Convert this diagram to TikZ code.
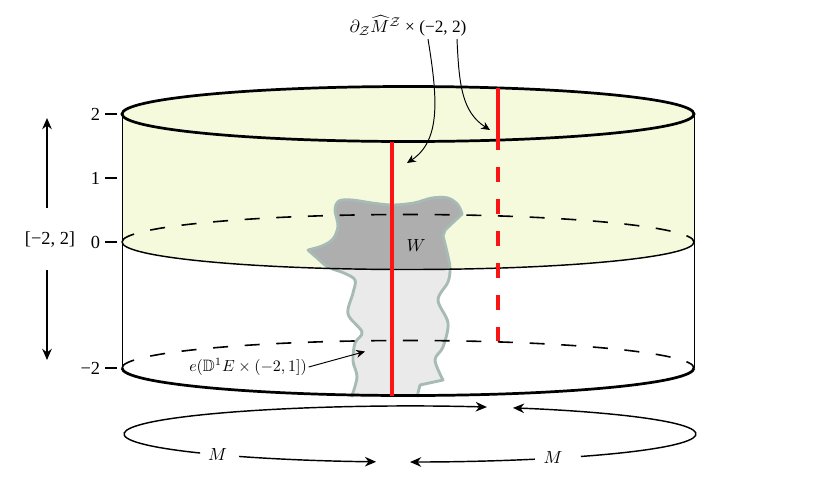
\documentclass[tikz,border=0pt]{standalone}
\usepackage[no-math]{fontspec}
\setmainfont{Liberation Serif}
\usepackage{amssymb}
\usetikzlibrary{arrows.meta}
\definecolor{bandyellow}{RGB}{246,250,220}
\definecolor{wdark}{RGB}{174,174,174}
\definecolor{wlight}{RGB}{234,234,234}
\definecolor{wborder}{RGB}{166,186,182}
\definecolor{redline}{RGB}{250,20,20}
\newcommand{\blobline}{(351.5,397) -- plot[smooth,tension=0.55] coordinates {(351.5,397) (357,377) (353,361) (355,343) (362,332) (348,314) (353,293) (355,280) (344,273) (328,267) (316,257) (308,250)}
 -- plot[smooth,tension=0.55] coordinates {(308,250) (322,246) (333,239) (338,226) (335,210) (339,201) (352,200) (372,203) (392,205) (414,203) (432,198) (448,198) (458,205) (462,214)}
 -- (445,230) -- (443,236)
 -- plot[smooth,tension=0.55] coordinates {(443,236) (447,252) (450,268) (448,282) (438,300) (448,323) (443,347) (435,360) (443,380)}
 -- (420,385) -- (417,397)}
\tikzset{
  thinline/.style={line width=0.6pt},
  backdash/.style={line width=1pt, dash pattern=on 9.4pt off 10.4pt},
  redsolid/.style={redline, line width=1.9pt},
  reddash/.style={redline, line width=1.9pt, dash pattern=on 9.4pt off 10.6pt},
  tick/.style={line width=0.9pt},
  ticklabel/.style={anchor=east, inner sep=0pt, font=\fontsize{11.5}{13}\selectfont},
  arr/.style={line width=0.9pt, -{Stealth[length=7pt,width=6pt]}},
  smallarr/.style={line width=0.6pt, -{Stealth[length=5.5pt,width=5pt]}},
}
\begin{document}
\begin{tikzpicture}[x=0.625pt,y=-0.625pt]
\useasboundingbox (0,0) rectangle (818,490);
% yellow band
\fill[bandyellow] (122,114) -- (122,242) arc[start angle=180,end angle=0,x radius=286,y radius=27.5]
  -- (694,114) arc[start angle=0,end angle=-180,x radius=286,y radius=27.5] -- cycle;
% blob
\fill[wlight] \blobline -- cycle;
\begin{scope}
\clip (122,114) -- (122,242) arc[start angle=180,end angle=0,x radius=286,y radius=27.5] -- (694,0) -- (122,0) -- cycle;
\fill[wdark] \blobline -- cycle;
\end{scope}
\draw[wborder, line width=1.8pt, line join=round] \blobline;
% back dashed arcs
\draw[backdash] (122,242) arc[start angle=180,end angle=360,x radius=286,y radius=27.5];
\draw[backdash] (122,368) arc[start angle=180,end angle=360,x radius=286,y radius=27.5];
% front arcs and sides
\draw[line width=0.9pt] (122,242) arc[start angle=180,end angle=0,x radius=286,y radius=27.5];
\draw[line width=1.7pt] (122,368) arc[start angle=180,end angle=0,x radius=286,y radius=27.5];
\draw[thinline] (122,114) -- (122,368);
\draw[thinline] (694,114) -- (694,368);
\draw[line width=1.7pt] (408,114) ellipse[x radius=286,y radius=27.5];
% red lines
\coordinate (r1top) at (392,141.5);
\coordinate (r1bot) at (392,395.5);
\coordinate (r2top) at (498,87.5);
\coordinate (r2mid) at (498,150);
\coordinate (r2bot) at (498,341);
\draw[redsolid] (r1top) -- (r1bot);
\draw[redsolid] (r2top) -- (r2mid);
\draw[reddash, dash phase=9.4pt] (r2mid) -- (r2bot);
% ticks
\foreach \yy/\lab/\nm in {114/2/t2, 178/1/t1, 242/0/t0, 368/{−2}/tm2}{
  \draw[tick] (105,\yy) -- (117,\yy);
  \node[ticklabel] (\nm) at (100.5,\yy) {\lab};
}
% interval label
\node[font=\fontsize{11.5}{13}\selectfont, inner sep=1pt] (intlab) at (50,240) {[−2, 2]};
\coordinate (uptip) at (47,118);
\coordinate (downtip) at (47,360);
\draw[arr] (47,208) -- (uptip);
\draw[arr] (47,270) -- (downtip);
% W
\node[font=\fontsize{11}{13}\selectfont] (wlab) at (416,246) {$W$};
% e label
\node[font=\fontsize{10.3}{12}\selectfont, inner sep=1pt] (elab) at (248,367) {$e(\mathbb{D}^1E\times(-2,1])$};
\coordinate (etip) at (365,351.5);
\draw[smallarr] (elab.east) -- (etip);
% top label
\node[font=\fontsize{10.8}{13}\selectfont, inner sep=1pt] (toplab) at (408,26) {$\partial_{\mathcal{Z}}\widehat{M}^{\mathcal{Z}}$ × (−2, 2)};
\coordinate (a1s) at (428,39);
\coordinate (a1e) at (407,163);
\coordinate (a2s) at (457,39);
\coordinate (a2e) at (490,130);
\draw[smallarr] (a1s) .. controls (437,95) and (442,140) .. (a1e);
\draw[smallarr] (a2s) .. controls (459,85) and (462,112) .. (a2e);
% bottom loop
\coordinate (loopc) at (410,434);
\node[font=\fontsize{11}{13}\selectfont] (mleft) at (217.5,455) {$M$};
\node[font=\fontsize{11}{13}\selectfont] (mright) at (553,458) {$M$};
\draw[arr] (loopc) ++(137.2:286 and 28) arc[start angle=137.2,end angle=285.6,x radius=286,y radius=28];
\draw[arr] (loopc) ++(53.3:286 and 28) arc[start angle=53.3,end angle=-68.9,x radius=286,y radius=28];
\draw[arr] (loopc) ++(126.7:286 and 28) arc[start angle=126.7,end angle=96.8,x radius=286,y radius=28];
\draw[arr] (loopc) ++(64.1:286 and 28) arc[start angle=64.1,end angle=90,x radius=286,y radius=28];
\end{tikzpicture}
\end{document}
